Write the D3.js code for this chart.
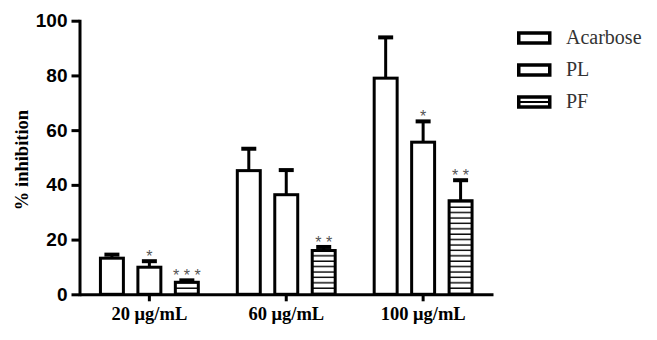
<!DOCTYPE html>
<html>
<head>
<meta charset="utf-8">
<script src="https://cdn.jsdelivr.net/npm/d3@7"></script>
<style>
  body { margin: 0; background: #fff; }
  svg { display: block; }
</style>
</head>
<body>
<div id="chart"></div>
<script>
// Data
const groups = ['20 μg/mL', '60 μg/mL', '100 μg/mL'];
const seriesNames = ['Acarbose', 'PL', 'PF'];
const acarbose = [13.2, 45.2, 79.0];
const acarboseErr = [1.3, 8.0, 14.9];
const pl = [9.9, 36.4, 55.6];
const plErr = [2.2, 9.0, 7.6];
const pf = [4.4, 16.0, 34.2];
const pfErr = [0.7, 1.3, 7.5];
const acarboseSig = ['', '', ''];
const plSig = ['*', '', '*'];
const pfSig = ['* * *', '* *', '* *'];
const yTicks = [0, 20, 40, 60, 80, 100];

const width = 657, height = 340;
const serif = "'Liberation Serif', 'Times New Roman', Times, serif";
const sans = "'Liberation Sans', Arial, Helvetica, sans-serif";

const rows = [];
[[acarbose, acarboseErr, acarboseSig], [pl, plErr, plSig], [pf, pfErr, pfSig]]
  .forEach(([vals, errs, sigs], si) => {
    groups.forEach((g, gi) => {
      rows.push({ group: g, series: seriesNames[si], value: vals[gi], err: errs[gi], sig: sigs[gi] });
    });
  });

const svg = d3.select('#chart').append('svg')
  .attr('width', width)
  .attr('height', height);

// striped fill for PF
const defs = svg.append('defs');
const pat = defs.append('pattern')
  .attr('id', 'stripes')
  .attr('patternUnits', 'userSpaceOnUse')
  .attr('width', 10)
  .attr('height', 5.4);
pat.append('rect').attr('width', 10).attr('height', 5.4).attr('fill', '#fff');
pat.append('line')
  .attr('x1', 0).attr('x2', 10)
  .attr('y1', 2).attr('y2', 2)
  .attr('stroke', '#000')
  .attr('stroke-width', 1.4);

const x0 = d3.scaleBand()
  .domain(groups)
  .range([79.5, 493])
  .paddingInner(0.263)
  .paddingOuter(0.142);

const x1 = d3.scaleBand()
  .domain(seriesNames)
  .range([0, x0.bandwidth()])
  .paddingInner(0.307)
  .paddingOuter(0);

const y = d3.scaleLinear()
  .domain([0, 100])
  .range([294.3, 20.7]);

const fillFor = s => s === 'PF' ? 'url(#stripes)' : '#fff';

// bars
const bars = svg.append('g').selectAll('g.bar')
  .data(rows)
  .join('g')
  .attr('class', 'bar')
  .attr('transform', d => `translate(${x0(d.group) + x1(d.series)},0)`);

bars.append('rect')
  .attr('x', 1.5)
  .attr('width', x1.bandwidth() - 3)
  .attr('y', d => y(d.value))
  .attr('height', d => y(0) - y(d.value))
  .attr('fill', d => fillFor(d.series))
  .attr('stroke', '#000')
  .attr('stroke-width', 3);

// upper error bars
bars.append('line')
  .attr('x1', x1.bandwidth() / 2)
  .attr('x2', x1.bandwidth() / 2)
  .attr('y1', d => y(d.value))
  .attr('y2', d => y(d.value + d.err))
  .attr('stroke', '#000')
  .attr('stroke-width', 3);

bars.append('line')
  .attr('x1', x1.bandwidth() / 2 - 7.5)
  .attr('x2', x1.bandwidth() / 2 + 7.5)
  .attr('y1', d => y(d.value + d.err))
  .attr('y2', d => y(d.value + d.err))
  .attr('stroke', '#000')
  .attr('stroke-width', 4);

// significance stars
bars.filter(d => d.sig)
  .append('text')
  .attr('x', x1.bandwidth() / 2)
  .attr('y', d => y(d.value + d.err) + 1)
  .attr('text-anchor', 'middle')
  .attr('font-family', sans)
  .attr('font-size', 16)
  .attr('fill', '#555')
  .text(d => d.sig);

// y axis
const yAxis = svg.append('g')
  .attr('transform', 'translate(79.5,0)')
  .call(d3.axisLeft(y).tickValues(yTicks).tickSize(8).tickSizeOuter(0).tickPadding(4));
yAxis.select('.domain').attr('stroke-width', 3).attr('stroke-linecap', 'square');
yAxis.selectAll('.tick line').attr('stroke-width', 3);
yAxis.selectAll('.tick text')
  .attr('font-family', sans)
  .attr('font-weight', 'bold')
  .attr('font-size', 19)
  .attr('fill', '#000');

// x axis
const xAxis = svg.append('g')
  .attr('transform', `translate(0,${y(0)})`)
  .call(d3.axisBottom(x0).tickSize(7).tickSizeOuter(0).tickPadding(6));
xAxis.select('.domain').attr('stroke-width', 3);
xAxis.selectAll('.tick line').attr('stroke-width', 3);
xAxis.selectAll('.tick text')
  .attr('font-family', serif)
  .attr('font-weight', 'bold')
  .attr('font-size', 18.5)
  .attr('fill', '#000');

// y title
svg.append('text')
  .attr('transform', 'translate(28,160) rotate(-90)')
  .attr('text-anchor', 'middle')
  .attr('font-family', serif)
  .attr('font-weight', 'bold')
  .attr('font-size', 18.5)
  .text('% inhibition');

// legend
const legend = svg.append('g')
  .selectAll('g')
  .data(seriesNames)
  .join('g')
  .attr('transform', (d, i) => `translate(517,${44 + i * 32})`);

legend.append('rect')
  .attr('x', 1.75)
  .attr('y', -11)
  .attr('width', 31)
  .attr('height', 10)
  .attr('fill', '#fff')
  .attr('stroke', '#000')
  .attr('stroke-width', 3.5);

legend.filter(d => d === 'PF')
  .append('line')
  .attr('x1', 2).attr('x2', 32)
  .attr('y1', -6).attr('y2', -6)
  .attr('stroke', '#000')
  .attr('stroke-width', 2);

legend.append('text')
  .attr('x', 49)
  .attr('y', 0)
  .attr('font-family', serif)
  .attr('font-size', 20)
  .attr('fill', '#333')
  .text(d => d);
</script>
</body>
</html>
